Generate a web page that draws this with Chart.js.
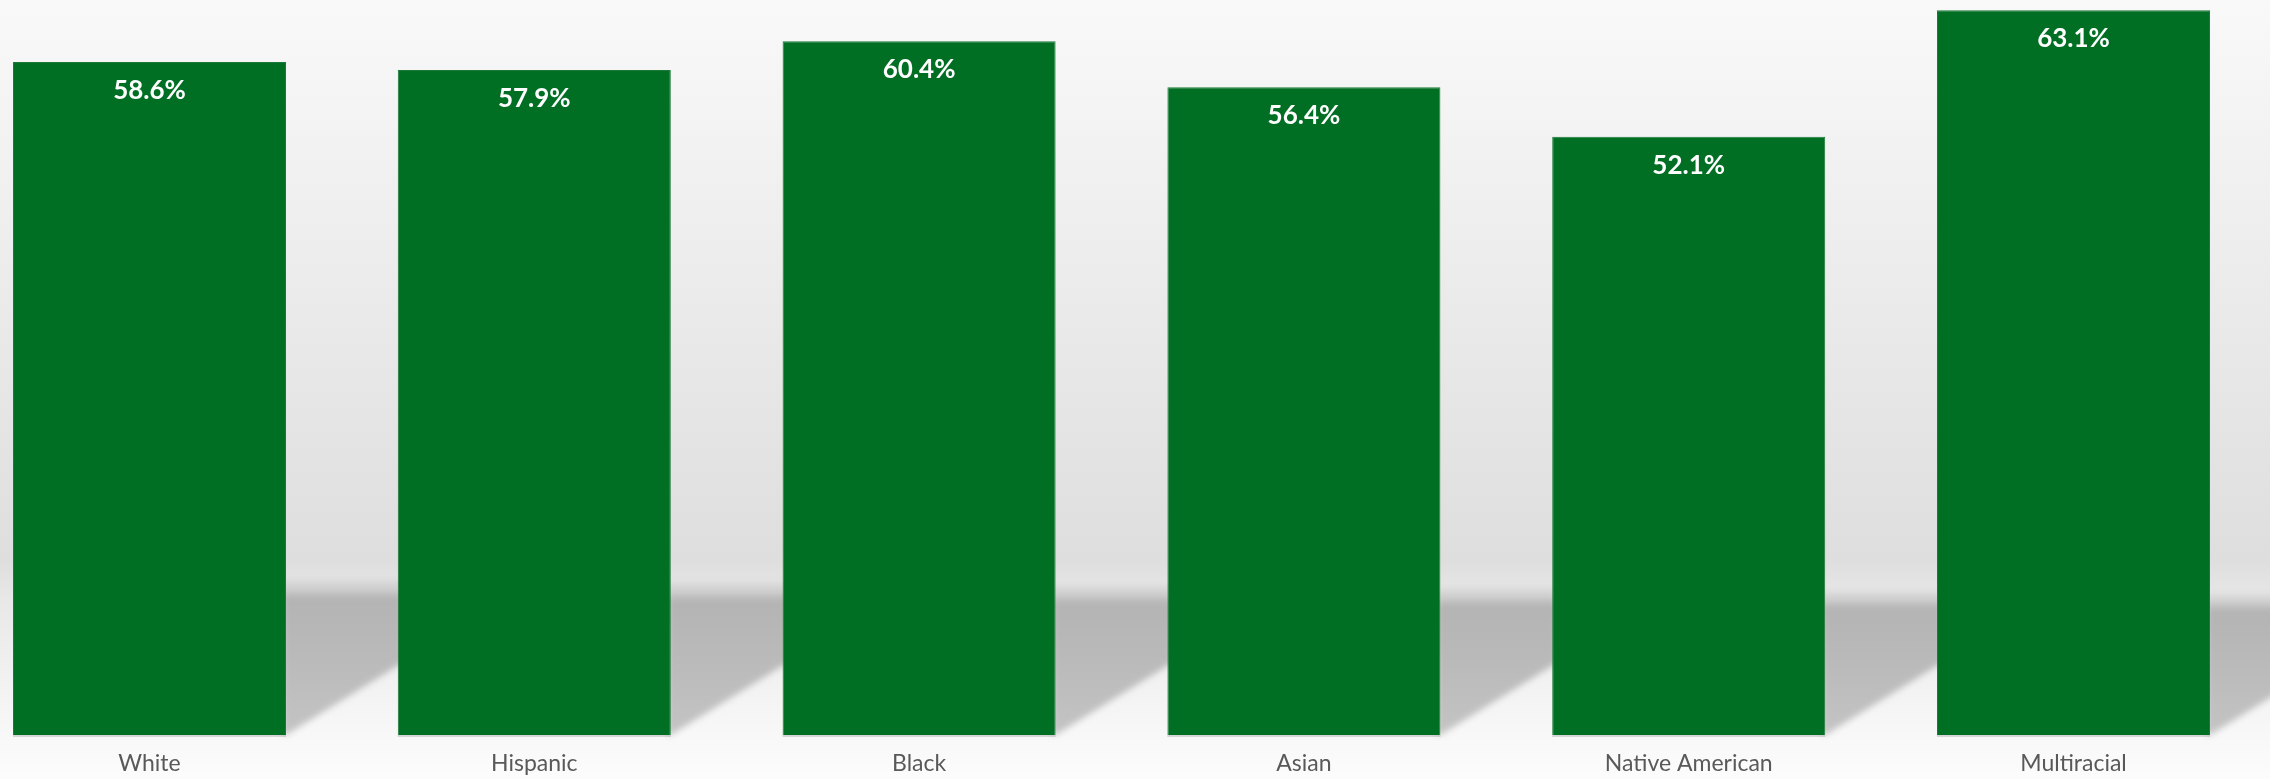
<!DOCTYPE html>
<html>
<head>
<meta charset="utf-8">
<script src="https://cdn.jsdelivr.net/npm/chart.js@4"></script>
<style>
  html, body { margin: 0; padding: 0; background: #f9f9f9; }
  #wrap { position: relative; width: 2270px; height: 779px; }
  canvas { display: block; }
</style>
</head>
<body>
<div id="wrap"><canvas id="c" width="2270" height="779"></canvas></div>
<script>
// ---- data ----
const categories = ['White', 'Hispanic', 'Black', 'Asian', 'Native American', 'Multiracial'];
const rates = [58.6, 57.9, 60.4, 56.4, 52.1, 63.1];
const valueLabels = ['58.6%', '57.9%', '60.4%', '56.4%', '52.1%', '63.1%'];

const BAR_GREEN = '#006f23';

const backgroundPlugin = {
  id: 'bg',
  beforeDraw(chart) {
    const ctx = chart.ctx;
    const h = chart.height, w = chart.width;
    const bottom = chart.chartArea.bottom;
    const g = ctx.createLinearGradient(0, 0, 0, h);
    g.addColorStop(0, '#f9f9f9');
    g.addColorStop(560 / h, '#dedede');
    g.addColorStop(600 / h, '#e8e8e8');
    g.addColorStop(bottom / h, '#f8f8f8');
    g.addColorStop(1, '#fcfcfc');
    ctx.save();
    ctx.fillStyle = g;
    ctx.fillRect(0, 0, w, h);
    ctx.restore();
  },
  beforeDatasetsDraw(chart) {
    const ctx = chart.ctx;
    const meta = chart.getDatasetMeta(0);
    const bottom = chart.chartArea.bottom;
    ctx.save();
    ctx.filter = 'blur(3px)';
    meta.data.forEach((bar, i) => {
      const right = bar.x + bar.width / 2;
      const next = meta.data[i + 1];
      const extent = next ? (next.x - next.width / 2) - right + 6 : chart.width - right + 10;
      const t = i / (meta.data.length - 1);
      const bandTop = bottom - 155 + t * 14;
      const slope = 0.62;
      const g = ctx.createLinearGradient(0, bandTop, 0, bottom);
      g.addColorStop(0, 'rgba(170,170,170,0.0)');
      g.addColorStop(0.04, '#d6d6d6');
      g.addColorStop(0.12, '#b4b4b4');
      g.addColorStop(0.5, '#bababa');
      g.addColorStop(1, '#c4c4c4');
      ctx.fillStyle = g;
      ctx.beginPath();
      ctx.moveTo(right - 4, bandTop);
      ctx.lineTo(right + extent, bandTop);
      ctx.lineTo(right + extent, bottom - extent * slope);
      ctx.lineTo(right, bottom);
      ctx.lineTo(right - 4, bottom);
      ctx.closePath();
      ctx.fill();
    });
    ctx.restore();
    ctx.save();
    ctx.fillStyle = 'rgba(150,150,150,0.35)';
    meta.data.forEach(bar => {
      ctx.fillRect(bar.x - bar.width / 2, bottom, bar.width, 2);
    });
    ctx.restore();
  },
  afterDatasetsDraw(chart) {
    const ctx = chart.ctx;
    const meta = chart.getDatasetMeta(0);
    ctx.save();
    ctx.fillStyle = '#ffffff';
    ctx.font = 'bold 26px Lato';
    ctx.textAlign = 'center';
    ctx.textBaseline = 'alphabetic';
    meta.data.forEach((bar, i) => {
      ctx.fillText(valueLabels[i], bar.x, bar.y + 37);
    });
    ctx.restore();
  }
};

new Chart(document.getElementById('c'), {
  type: 'bar',
  data: {
    datasets: [{
      data: rates.map((v, i) => ({ x: i, y: v })),
      backgroundColor: BAR_GREEN,
      borderColor: '#1a7a36',
      borderWidth: 1,
      categoryPercentage: 1,
      barPercentage: 0.7095
    }]
  },
  options: {
    responsive: false,
    animation: false,
    layout: { padding: 0 },
    plugins: { legend: { display: false }, tooltip: { enabled: false } },
    scales: {
      x: {
        type: 'linear',
        offset: false,
        min: -0.3885,
        max: 5.5106,
        grid: { display: false, drawTicks: false, offset: false },
        border: { display: false },
        afterBuildTicks(scale) {
          scale.ticks = categories.map((c, i) => ({ value: i }));
        },
        afterFit(scale) { scale.height = 44; },
        ticks: {
          autoSkip: false,
          maxRotation: 0,
          padding: 15,
          color: '#595959',
          font: { family: 'Lato', size: 23 },
          callback: (v) => categories[v]
        }
      },
      y: {
        display: false,
        min: 0,
        max: 64,
        grid: { display: false }
      }
    }
  },
  plugins: [backgroundPlugin]
});
</script>
</body>
</html>
